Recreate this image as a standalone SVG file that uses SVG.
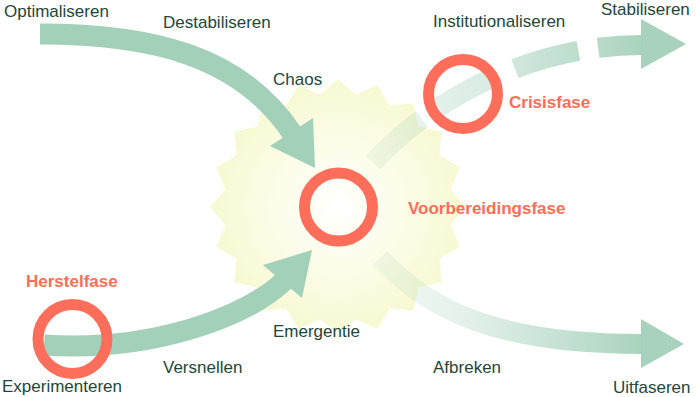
<svg xmlns="http://www.w3.org/2000/svg" width="696" height="397" viewBox="0 0 696 397">
<defs>
<radialGradient id="burst" cx="338" cy="207" r="128" gradientUnits="userSpaceOnUse">
<stop offset="0" stop-color="#ffffff"/>
<stop offset="0.45" stop-color="#fdfdeb"/>
<stop offset="1" stop-color="#f7f9d1"/>
</radialGradient>
<linearGradient id="fadeDown" x1="370" y1="0" x2="650" y2="0" gradientUnits="userSpaceOnUse">
<stop offset="0" stop-color="#a3d0b9" stop-opacity="0.12"/>
<stop offset="0.35" stop-color="#a3d0b9" stop-opacity="0.3"/>
<stop offset="1" stop-color="#a3d0b9" stop-opacity="0.95"/>
</linearGradient>
<linearGradient id="fadeUp" x1="370" y1="0" x2="650" y2="0" gradientUnits="userSpaceOnUse">
<stop offset="0" stop-color="#a3d0b9" stop-opacity="0.15"/>
<stop offset="0.4" stop-color="#a3d0b9" stop-opacity="0.4"/>
<stop offset="1" stop-color="#a3d0b9" stop-opacity="0.95"/>
</linearGradient>
</defs>
<style>
.lbl{font-family:"Liberation Sans",Arial,Helvetica,sans-serif;font-size:17px;fill:#22473a}
.phase{font-family:"Liberation Sans",Arial,Helvetica,sans-serif;font-size:17px;font-weight:bold;fill:#fd6e59}
.shaft{fill:none;stroke:#a3d0b9;stroke-width:21;stroke-linecap:butt}
.head{fill:#a3d0b9}
.ring{fill:none;stroke:#fe6e5a;stroke-width:11}
</style>
<g id="chaos-burst">
<polygon fill="url(#burst)" points="466,207 450.6,189.2 459.7,167.4 439.6,155.2 441.6,131.8 418.6,126.4 413.2,103.4 389.8,105.4 377.6,85.3 355.8,94.4 338,79 320.2,94.4 298.4,85.3 286.2,105.4 262.8,103.4 257.4,126.4 234.4,131.8 236.4,155.2 216.3,167.4 225.4,189.2 210,207 225.4,224.8 216.3,246.6 236.4,258.8 234.4,282.2 257.4,287.6 262.8,310.6 286.2,308.6 298.4,328.7 320.2,319.6 338,333 355.8,319.6 377.6,328.7 389.8,308.6 413.2,310.6 418.6,287.6 441.6,282.2 439.6,258.8 459.7,246.6 450.6,224.8"/>
</g>
<g id="connectors">
<g id="arrow-destabiliseren">
<path class="shaft" d="M40,34 C150,34 240,55 292,133"/>
<polygon class="head" points="315,168 270,146 313,118"/>
</g>
<g id="arrow-versnellen">
<path class="shaft" d="M44,345 C150,352 245,318 284,281"/>
<polygon class="head" points="312,250 263,265 302,298"/>
</g>
<g id="arrow-afbreken">
<path fill="none" stroke="url(#fadeDown)" stroke-width="20" d="M380,258 C430,312 500,344 642,344"/>
<polygon fill="#a3d0b9" fill-opacity="0.95" points="684,344 641,319 641,368"/>
</g>
<g id="arrow-institutionaliseren">
<path fill="none" stroke="url(#fadeUp)" stroke-width="20" stroke-dasharray="66 20" d="M373,163 C420,110 520,45 642,45"/>
<polygon fill="#a3d0b9" fill-opacity="0.95" points="686,44 641,19 641,69"/>
</g>
</g>
<g id="voorbereidingsfase">
<circle class="ring" cx="338.5" cy="207" r="34"/>
<text class="phase" x="408" y="214">Voorbereidingsfase</text>
</g>
<g id="crisisfase">
<circle class="ring" cx="463" cy="94" r="34.5"/>
<text class="phase" x="509" y="108">Crisisfase</text>
</g>
<g id="herstelfase">
<circle class="ring" cx="72.5" cy="339" r="34.5"/>
<text class="phase" x="26" y="287">Herstelfase</text>
</g>
<g id="labels">
<text class="lbl" x="4" y="17">Optimaliseren</text>
<text class="lbl" x="163" y="27.5">Destabiliseren</text>
<text class="lbl" x="273" y="85">Chaos</text>
<text class="lbl" x="433" y="27">Institutionaliseren</text>
<text class="lbl" x="601" y="15">Stabiliseren</text>
<text class="lbl" x="273" y="337">Emergentie</text>
<text class="lbl" x="163" y="373">Versnellen</text>
<text class="lbl" x="433" y="373">Afbreken</text>
<text class="lbl" x="2" y="392">Experimenteren</text>
<text class="lbl" x="613" y="393">Uitfaseren</text>
</g>
</svg>
